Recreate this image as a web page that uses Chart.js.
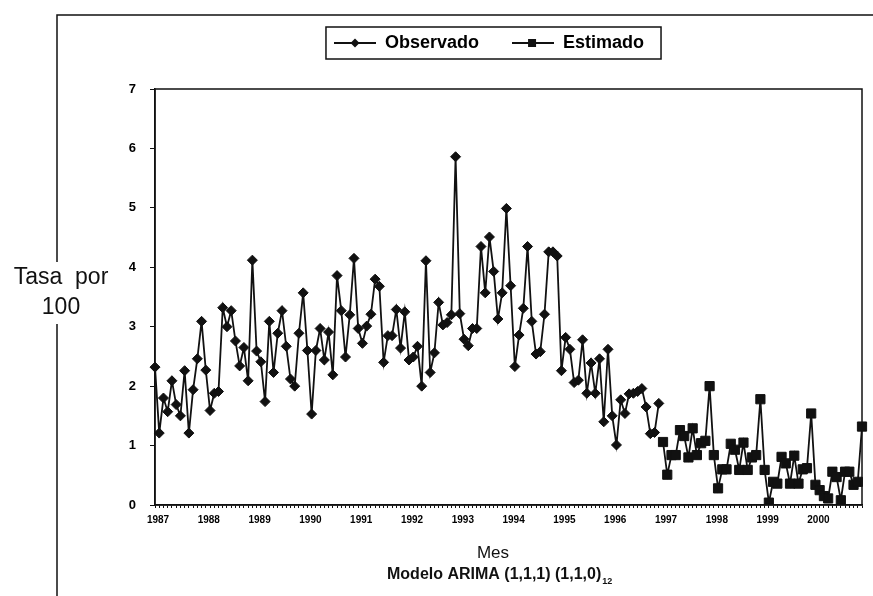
<!DOCTYPE html>
<html>
<head>
<meta charset="utf-8">
<script src="https://cdn.jsdelivr.net/npm/chart.js@4.4.0/dist/chart.umd.min.js"></script>
<style>
  html, body { margin: 0; padding: 0; background: #fff; }
  #chart { display: block; }
</style>
</head>
<body>
<canvas id="chart" width="873" height="596"></canvas>
<script>
const years = [1987, 1988, 1989, 1990, 1991, 1992, 1993, 1994, 1995, 1996, 1997, 1998, 1999, 2000];

// Tasa mensual observada 1987-1996
const observado = [
    2.32, 1.21, 1.80, 1.57, 2.09, 1.69, 1.50, 2.26, 1.21, 1.94, 2.46, 3.09,
    2.27, 1.59, 1.88, 1.91, 3.32, 3.00, 3.27, 2.76, 2.34, 2.65, 2.09, 4.12,
    2.59, 2.41, 1.74, 3.09, 2.23, 2.89, 3.27, 2.67, 2.12, 2.00, 2.89, 3.57,
    2.60, 1.53, 2.60, 2.97, 2.44, 2.91, 2.19, 3.86, 3.27, 2.49, 3.20, 4.15,
    2.97, 2.72, 3.01, 3.21, 3.80, 3.68, 2.40, 2.85, 2.85, 3.29, 2.64, 3.25,
    2.44, 2.49, 2.67, 2.00, 4.11, 2.23, 2.56, 3.41, 3.03, 3.07, 3.20, 5.86,
    3.22, 2.79, 2.68, 2.97, 2.97, 4.35, 3.57, 4.51, 3.93, 3.13, 3.57, 4.99,
    3.69, 2.33, 2.86, 3.31, 4.35, 3.09, 2.54, 2.58, 3.21, 4.26, 4.26, 4.19,
    2.26, 2.82, 2.62, 2.06, 2.10, 2.78, 1.88, 2.39, 1.88, 2.46, 1.40, 2.62,
    1.50, 1.01, 1.77, 1.54, 1.87, 1.88, 1.91, 1.96, 1.65, 1.20, 1.22, 1.71
];

// Tasa estimada 1997-2000
const estimado = [
    1.06, 0.51, 0.84, 0.84, 1.26, 1.16, 0.80, 1.29, 0.84, 1.04, 1.08, 2.00,
    0.84, 0.28, 0.60, 0.60, 1.03, 0.93, 0.59, 1.05, 0.59, 0.80, 0.84, 1.78,
    0.59, 0.04, 0.39, 0.36, 0.81, 0.70, 0.36, 0.83, 0.36, 0.60, 0.62, 1.54,
    0.34, 0.25, 0.15, 0.11, 0.56, 0.47, 0.08, 0.56, 0.56, 0.34, 0.39, 1.32
];

const labels = [];
years.forEach(y => {
    for (let m = 1; m <= 12; m++) labels.push(y + '-' + String(m).padStart(2, '0'));
});

const ink = '#111';
const fontFamily = "'Liberation Sans', Arial, sans-serif";

function legendIcon(kind) {
    const c = document.createElement('canvas');
    c.width = 42;
    c.height = 14;
    const g = c.getContext('2d');
    g.strokeStyle = ink;
    g.lineWidth = 1.8;
    g.beginPath();
    g.moveTo(0, 7);
    g.lineTo(42, 7);
    g.stroke();
    g.fillStyle = ink;
    if (kind === 'diamond') {
        g.beginPath();
        g.moveTo(21, 2.5);
        g.lineTo(25.5, 7);
        g.lineTo(21, 11.5);
        g.lineTo(16.5, 7);
        g.closePath();
        g.fill();
    } else {
        g.fillRect(16, 3, 8, 8);
    }
    return c;
}
const legendIcons = [legendIcon('diamond'), legendIcon('square')];

const decor = {
    id: 'decor',
    beforeDraw(chart) {
        const ctx = chart.ctx;
        ctx.save();
        ctx.fillStyle = '#fff';
        ctx.fillRect(0, 0, chart.width, chart.height);

        // marco exterior
        ctx.strokeStyle = ink;
        ctx.lineWidth = 1.5;
        ctx.beginPath();
        ctx.moveTo(57, chart.height);
        ctx.lineTo(57, 15);
        ctx.lineTo(chart.width, 15);
        ctx.stroke();

        ctx.fillStyle = '#fff';
        ctx.fillRect(8, 262, 106, 62);

        ctx.fillStyle = ink;
        ctx.textAlign = 'center';
        ctx.textBaseline = 'middle';
        ctx.font = '23px ' + fontFamily;
        ctx.fillText('Tasa  por', 61, 278);
        ctx.fillText('100', 61, 308);

        ctx.font = '17px ' + fontFamily;
        ctx.fillText('Mes', 493, 553);

        ctx.textAlign = 'left';
        ctx.font = 'bold 16px ' + fontFamily;
        const txt = 'Modelo ARIMA (1,1,1) (1,1,0)';
        ctx.fillText(txt, 387, 575);
        const w = ctx.measureText(txt).width;
        ctx.font = 'bold 9px ' + fontFamily;
        ctx.fillText('12', 387 + w + 1, 582);
        ctx.restore();
    },
    afterDraw(chart) {
        const ctx = chart.ctx;
        const a = chart.chartArea;
        ctx.save();
        ctx.strokeStyle = ink;
        ctx.lineWidth = 1.5;
        ctx.strokeRect(a.left, a.top, a.right - a.left, a.bottom - a.top);

        const hb = chart.legend.legendHitBoxes;
        if (hb && hb.length) {
            const first = hb[0];
            const last = hb[hb.length - 1];
            const cy = first.top + first.height / 2;
            const x0 = first.left - 8;
            const x1 = last.left + last.width + 17;
            ctx.strokeRect(x0, cy - 16, x1 - x0, 32);
        }
        ctx.restore();
    }
};

new Chart(document.getElementById('chart').getContext('2d'), {
    type: 'line',
    data: {
        labels: labels,
        datasets: [{
            label: 'Observado',
            data: observado.concat(new Array(estimado.length).fill(null)),
            borderColor: ink,
            borderWidth: 1.8,
            pointStyle: 'rectRot',
            pointRadius: 5,
            pointBackgroundColor: ink,
            pointBorderColor: ink,
            pointBorderWidth: 1,
            fill: false,
            tension: 0
        }, {
            label: 'Estimado',
            data: new Array(observado.length).fill(null).concat(estimado),
            borderColor: ink,
            borderWidth: 1.8,
            pointStyle: 'rect',
            pointRadius: 6.5,
            pointBackgroundColor: ink,
            pointBorderColor: ink,
            pointBorderWidth: 1,
            fill: false,
            tension: 0
        }]
    },
    options: {
        responsive: false,
        animation: false,
        devicePixelRatio: 1,
        layout: { padding: { left: 116, right: 11, top: 1, bottom: 0 } },
        plugins: {
            tooltip: { enabled: false },
            legend: {
                position: 'top',
                weight: 1000,
                labels: {
                    usePointStyle: true,
                    pointStyleWidth: 42,
                    padding: 33,
                    color: '#000',
                    font: { family: fontFamily, size: 18, weight: 'bold' },
                    generateLabels(chart) {
                        const items = Chart.defaults.plugins.legend.labels.generateLabels(chart);
                        items.forEach((it, i) => { it.pointStyle = legendIcons[i]; });
                        return items;
                    }
                }
            },
            title: {
                display: true,
                text: '',
                weight: 500,
                font: { size: 10 },
                padding: { top: 0, bottom: 15 }
            }
        },
        scales: {
            x: {
                type: 'category',
                offset: false,
                afterFit(scale) { scale.height = 91; },
                grid: { display: true, drawOnChartArea: false, drawTicks: true, tickLength: 3, color: ink, lineWidth: 1 },
                border: { display: true, color: ink, width: 1.5 },
                ticks: {
                    autoSkip: false,
                    maxRotation: 0,
                    minRotation: 0,
                    padding: 6,
                    labelOffset: 3,
                    color: '#000',
                    font: { family: fontFamily, size: 10, weight: 'bold' },
                    callback: (val, idx) => idx % 12 === 0 ? String(years[idx / 12]) : ''
                }
            },
            y: {
                min: 0,
                max: 7,
                afterFit(scale) { scale.width = 39; },
                grid: { display: true, drawOnChartArea: false, drawTicks: true, tickLength: 5, color: ink, lineWidth: 1 },
                border: { display: true, color: ink, width: 1.5 },
                ticks: {
                    stepSize: 1,
                    padding: 14,
                    color: '#000',
                    font: { family: fontFamily, size: 13, weight: 'bold' }
                }
            }
        }
    },
    plugins: [decor]
});
</script>
</body>
</html>
